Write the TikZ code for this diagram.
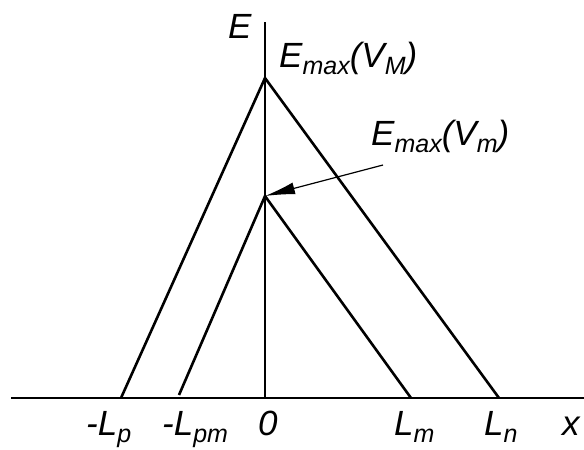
\documentclass[tikz,border=0pt]{standalone}
\usepackage{fontspec}
\setmainfont{Liberation Sans}
\usepackage{tikz}
\usetikzlibrary{arrows.meta, positioning}
\newcommand{\lowtxt}[1]{\raisebox{-0.22em}{\fontsize{25}{25}\selectfont #1}}
\tikzset{
  axisline/.style={line width=1.7pt},
  fieldline/.style={line width=2.6pt},
  lbl/.style={anchor=base west, inner sep=0pt, font=\fontsize{35}{37}\selectfont\itshape}
}

\begin{document}
\begin{tikzpicture}[x=1pt, y=-1pt]
  \useasboundingbox (0,0) rectangle (584,450);
  % axes
  \coordinate (xl) at (11,398);
  \coordinate (xr) at (584,398);
  \coordinate (O) at (265,398);
  \coordinate (et) at (265,22);
  \draw[axisline] (xl) -- (xr);
  \draw[axisline] (O) -- (et);
  % field profiles
  \coordinate (apexM) at (265,78);
  \coordinate (apexm) at (265,196);
  \coordinate (lp) at (121,398);
  \coordinate (lpm) at (179,395);
  \coordinate (lm) at (411,398);
  \coordinate (ln) at (499,398);
  \draw[fieldline, line join=miter] (lp) -- (apexM) -- (ln);
  \draw[fieldline, line join=miter] (lpm) -- (apexm) -- (lm);
  % pointer
  \coordinate (ptr) at (383,165);
  \draw[line width=1.2pt, -{Latex[length=30pt, width=12pt]}] (ptr) -- (apexm);
  % labels
  \node[lbl] (labE) at (228,38) {E};
  \node[lbl] (labEM) at (279,67) {E\lowtxt{max}(V\lowtxt{M})};
  \node[lbl] (labEm) at (371,145) {E\lowtxt{max}(V\lowtxt{m})};
  \node[lbl] (labLp) at (86,435) {-L\lowtxt{p}};
  \node[lbl] (labLpm) at (162,435) {-L\lowtxt{pm}};
  \node[lbl] (labO) at (258,435) {0};
  \node[lbl] (labLm) at (394,435) {L\lowtxt{m}};
  \node[lbl] (labLn) at (484,435) {L\lowtxt{n}};
  \node[lbl] (labx) at (562,435) {x};
\end{tikzpicture}
\end{document}
